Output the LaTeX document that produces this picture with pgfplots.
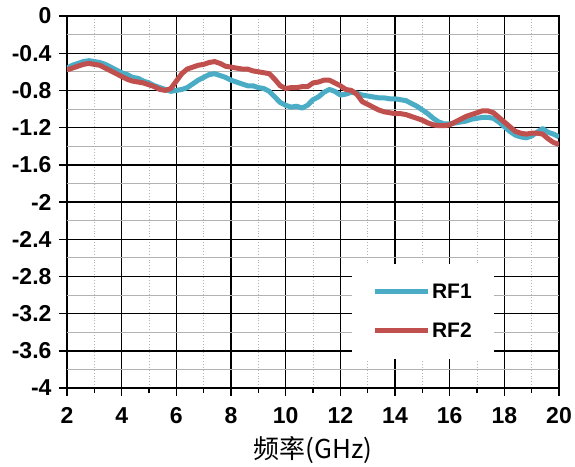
\documentclass[border=0pt]{standalone}
\usepackage{pgfplots}
\pgfplotsset{compat=1.18}
\usepackage{fontspec}
\setmainfont{Liberation Sans}
\newfontfamily\cjk{Noto Sans CJK SC}
\definecolor{rfblue}{HTML}{4BACC6}
\definecolor{rfred}{HTML}{C0504D}
\pgfplotstableread{
x y
2.0 -0.56
2.2 -0.53
2.4 -0.51
2.6 -0.49
2.8 -0.48
3.0 -0.49
3.2 -0.50
3.4 -0.52
3.6 -0.55
3.8 -0.58
4.0 -0.61
4.2 -0.63
4.4 -0.66
4.6 -0.67
4.8 -0.70
5.0 -0.72
5.2 -0.75
5.4 -0.77
5.6 -0.79
5.8 -0.81
6.0 -0.80
6.2 -0.79
6.4 -0.77
6.6 -0.73
6.8 -0.69
7.0 -0.66
7.2 -0.63
7.4 -0.62
7.6 -0.64
7.8 -0.66
8.0 -0.69
8.2 -0.71
8.4 -0.73
8.6 -0.75
8.8 -0.75
9.0 -0.77
9.2 -0.78
9.4 -0.81
9.6 -0.87
9.8 -0.93
10.0 -0.96
10.2 -0.98
10.4 -0.97
10.6 -0.99
10.8 -0.96
11.0 -0.90
11.2 -0.87
11.4 -0.82
11.6 -0.79
11.8 -0.81
12.0 -0.85
12.2 -0.84
12.4 -0.82
12.6 -0.83
12.8 -0.85
13.0 -0.86
13.2 -0.87
13.4 -0.88
13.6 -0.88
13.8 -0.89
14.0 -0.89
14.2 -0.90
14.4 -0.91
14.6 -0.94
14.8 -0.97
15.0 -1.01
15.2 -1.05
15.4 -1.10
15.6 -1.14
15.8 -1.16
16.0 -1.16
16.2 -1.15
16.4 -1.14
16.6 -1.13
16.8 -1.11
17.0 -1.10
17.2 -1.09
17.4 -1.09
17.6 -1.10
17.8 -1.14
18.0 -1.19
18.2 -1.24
18.4 -1.28
18.6 -1.30
18.8 -1.31
19.0 -1.29
19.2 -1.25
19.4 -1.21
19.6 -1.25
19.8 -1.27
20.0 -1.30
}\rfone
\pgfplotstableread{
x y
2.0 -0.58
2.2 -0.56
2.4 -0.54
2.6 -0.52
2.8 -0.51
3.0 -0.52
3.2 -0.53
3.4 -0.56
3.6 -0.59
3.8 -0.62
4.0 -0.65
4.2 -0.68
4.4 -0.70
4.6 -0.71
4.8 -0.72
5.0 -0.74
5.2 -0.76
5.4 -0.79
5.6 -0.80
5.8 -0.78
6.0 -0.70
6.2 -0.62
6.4 -0.57
6.6 -0.55
6.8 -0.53
7.0 -0.52
7.2 -0.50
7.4 -0.49
7.6 -0.51
7.8 -0.54
8.0 -0.55
8.2 -0.56
8.4 -0.57
8.6 -0.57
8.8 -0.59
9.0 -0.60
9.2 -0.61
9.4 -0.62
9.6 -0.68
9.8 -0.75
10.0 -0.78
10.2 -0.77
10.4 -0.77
10.6 -0.76
10.8 -0.76
11.0 -0.72
11.2 -0.71
11.4 -0.69
11.6 -0.69
11.8 -0.72
12.0 -0.75
12.2 -0.79
12.4 -0.80
12.6 -0.84
12.8 -0.92
13.0 -0.95
13.2 -0.98
13.4 -1.01
13.6 -1.03
13.8 -1.04
14.0 -1.05
14.2 -1.05
14.4 -1.06
14.6 -1.08
14.8 -1.10
15.0 -1.12
15.2 -1.15
15.4 -1.17
15.6 -1.18
15.8 -1.18
16.0 -1.17
16.2 -1.14
16.4 -1.11
16.6 -1.08
16.8 -1.06
17.0 -1.04
17.2 -1.02
17.4 -1.02
17.6 -1.04
17.8 -1.09
18.0 -1.14
18.2 -1.19
18.4 -1.24
18.6 -1.26
18.8 -1.27
19.0 -1.26
19.2 -1.26
19.4 -1.27
19.6 -1.32
19.8 -1.36
20.0 -1.38
}\rftwo
\begin{document}
\begin{tikzpicture}
\useasboundingbox (-67pt,-78pt) rectangle (508pt,388pt);
\begin{axis}[
  at={(0,0)}, anchor=south west,
  scale only axis, width=492pt, height=372pt,
  xmin=2, xmax=20, ymin=-4, ymax=0,
  xtick={2,4,...,20},
  ytick={-4,-3.6,-3.2,-2.8,-2.4,-2,-1.6,-1.2,-0.8,-0.4,0},
  yticklabels={-4,-3.6,-3.2,-2.8,-2.4,-2,-1.6,-1.2,-0.8,-0.4,0},
  minor x tick num=1, minor y tick num=1,
  grid=both,
  major grid style={black, line width=1.4pt},
  minor x grid style={gray!60, line width=0.9pt, dotted},
  minor y grid style={gray!60, line width=1pt},
  axis line style={black, line width=1pt},
  tick align=outside, xtick pos=bottom, ytick pos=left,
  major tick length=8pt, minor tick length=5pt,
  major tick style={black, line width=1.4pt},
  minor x tick style={black, line width=1.2pt},
  minor y tick style={draw=none},
  /pgf/number format/assume math mode=true,
  ticklabel style={font=\fontsize{23}{26}\selectfont\bfseries},
  xticklabel shift=8pt,
  yticklabel style={xshift=-4pt},
  xlabel={\cjk 频率(GHz)},
  xlabel style={font=\fontsize{26}{30}\selectfont, yshift=-6pt},
  legend style={at={(0.579,0.334)}, anchor=north west, draw=none, fill=white,
    font=\fontsize{21}{24}\selectfont\bfseries, inner xsep=20pt, inner ysep=18pt,
    row sep=19pt},
  legend cell align=left,
  legend image code/.code={\draw[#1, line width=5pt] (0pt,0pt) -- (53pt,0pt);},
]
\addplot[rfblue, line width=5pt, line join=round] table[x=x,y=y] {\rfone};
\addlegendentry{RF1}
\addplot[rfred, line width=5pt, line join=round] table[x=x,y=y] {\rftwo};
\addlegendentry{RF2}
\end{axis}
\end{tikzpicture}
\end{document}
